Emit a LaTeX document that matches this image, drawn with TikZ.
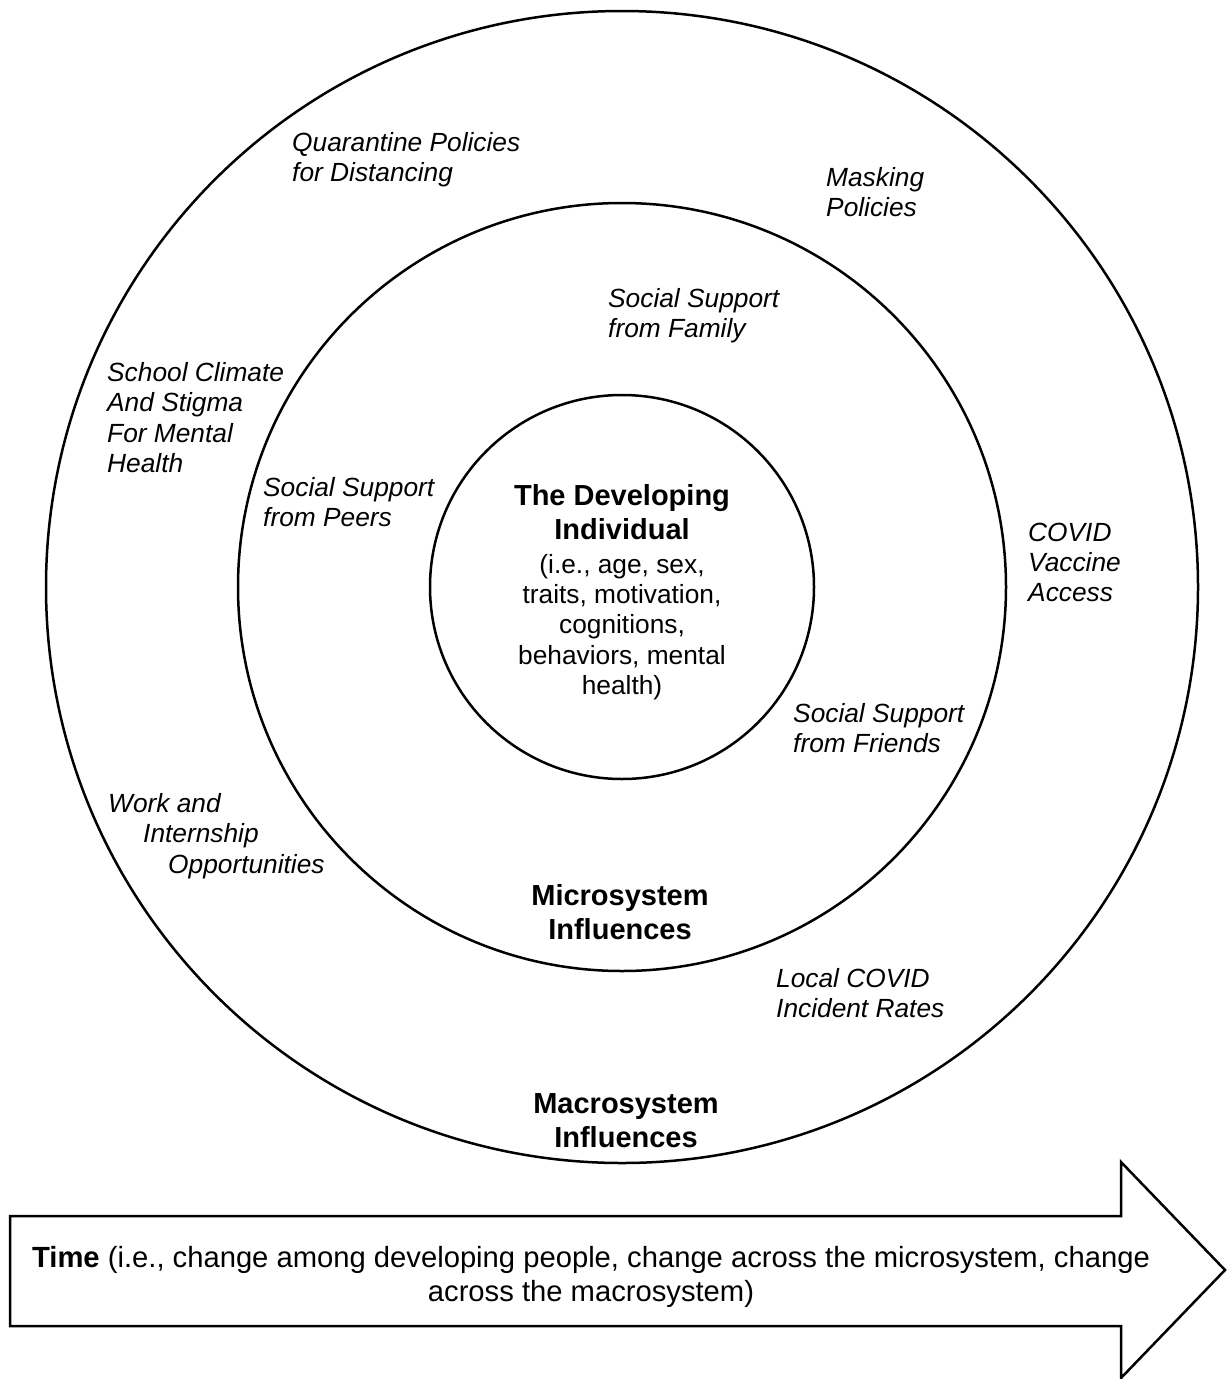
\documentclass[tikz,border=0pt]{standalone}
\usepackage{fontspec}
\setmainfont{Liberation Sans}
\usepackage{tikz}
\usetikzlibrary{positioning}

\begin{document}
\begin{tikzpicture}[
    x=1pt, y=-1pt,
    ring/.style={circle, draw=black, line width=2.5pt,
                 inner sep=0pt, outer sep=0pt},
    factor/.style={anchor=north west, inner sep=0pt, align=left,
                   font=\fontsize{26.3}{30.2}\selectfont\itshape},
    level/.style={anchor=north, inner sep=0pt, align=center,
                  font=\fontsize{29}{34}\selectfont\bfseries},
    detail/.style={inner sep=0pt, align=center,
                   font=\fontsize{26.3}{30.2}\selectfont},
    timearrow/.style={draw=black, line width=2.5pt, line join=miter}
]

%% === CANVAS ===
\useasboundingbox (0,0) rectangle (1227,1379);

%% --- RINGS (radius 192, 384, 576) ---
\coordinate (ctr) at (622,587);
\foreach \k/\name in {1/corering,2/microring,3/macroring}
    \node[ring, minimum size=\k*384pt] (\name) at (ctr) {};

%% --- CENTRE: THE INDIVIDUAL ---
\node[level] (individual) at (622,484.6) {The Developing\\Individual};
\node[detail, below=14pt of individual] (indivinfo)
    {(i.e., age, sex,\\traits, motivation,\\cognitions,\\behaviors, mental\\health)};

%% --- MICROSYSTEM ---
\node[factor] (family)  at (608,288.5) {Social Support\\from Family};
\node[factor] (peers)   at (263,477.5) {Social Support\\from Peers};
\node[factor] (friends) at (793,703.5) {Social Support\\from Friends};
\node[level] (microlabel) at (620,884.6) {Microsystem\\Influences};

%% --- MACROSYSTEM ---
\node[factor] (quarantine) at (292,132) {Quarantine Policies\\for Distancing};
\node[factor] (masking)    at (826,167.5) {Masking\\Policies};
\node[factor] (school)     at (107,362.5) {School Climate\\And Stigma\\For Mental\\Health};
\node[factor] (vaccine)    at (1028,522.5) {COVID\\Vaccine\\Access};
\node[factor] (work)       at (108,793.5)
    {Work and\\\hspace*{35pt}Internship\\\hspace*{60pt}Opportunities};
\node[factor] (incidence)  at (776,968.5) {Local COVID\\Incident Rates};
\node[level] (macrolabel) at (626,1093.6) {Macrosystem\\Influences};

%% --- TIME ARROW ---
\draw[timearrow] (10,1216) -- (1121,1216) -- (1121,1162) -- (1225,1270)
    -- (1121,1378) -- (1121,1326) -- (10,1326) -- cycle;
\node[detail, anchor=north, font=\fontsize{29.2}{33.3}\selectfont] (time) at (591,1246.5)
    {\textbf{Time} (i.e., change among developing people, change across the microsystem, change\\across the macrosystem)};

\end{tikzpicture}
\end{document}
